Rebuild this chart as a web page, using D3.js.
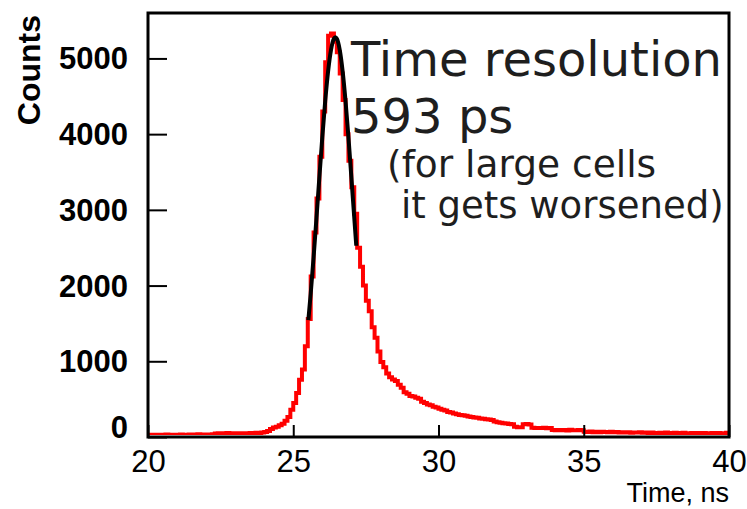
<!DOCTYPE html>
<html>
<head>
<meta charset="utf-8">
<script src="https://cdn.jsdelivr.net/npm/d3@7"></script>
<style>
  body { margin: 0; background: #fff; }
  svg { display: block; }
</style>
</head>
<body>
<div id="chart"></div>
<script>
// histogram: 200 bins of 0.1 ns from 20 to 40 ns
const binStart = 20;
const binWidth = 0.1;
const counts = [
  28, 30, 26, 31, 29, 27, 32, 30, 28, 31,
  30, 33, 29, 31, 34, 30, 32, 35, 31, 33,
  34, 32, 36, 45, 50, 44, 48, 52, 46, 50,
  42, 48, 46, 50, 47, 52, 50, 55, 52, 60,
  65, 80, 105, 125, 135, 155, 175, 215, 265, 360,
  450, 580, 755, 890, 1200, 1560, 2120, 2700, 3150, 3700,
  4300, 4950, 5300, 5330, 5220, 5080, 4800, 4450, 4000, 3650,
  3300, 2950, 2500, 2250, 2000, 1800, 1660, 1450, 1310, 1130,
  990, 920, 840, 790, 760, 740, 690, 650, 590, 570,
  540, 535, 520, 505, 465, 450, 430, 420, 400, 390,
  372, 360, 350, 330, 322, 310, 300, 292, 288, 280,
  270, 265, 258, 255, 245, 240, 236, 230, 224, 205,
  195, 188, 182, 178, 172, 168, 135, 130, 128, 168,
  172, 165, 122, 118, 120, 118, 122, 116, 120, 92,
  90, 94, 88, 92, 86, 95, 90, 88, 92, 88,
  70, 66, 72, 64, 68, 62, 70, 66, 64, 68,
  62, 66, 58, 64, 60, 62, 56, 60, 58, 62,
  55, 60, 52, 58, 54, 50, 56, 52, 58, 54,
  50, 55, 48, 52, 56, 50, 46, 54, 50, 52,
  48, 52, 46, 50, 54, 48, 52, 46, 50, 55
];

// gaussian fit curve
const fitTimes  = [25.52, 25.6, 25.7, 25.8, 25.9, 26.0, 26.1, 26.2, 26.3, 26.4, 26.45, 26.5, 26.6, 26.7, 26.8, 26.9, 27.0, 27.1, 27.17];
const fitCounts = [1544, 1890, 2373, 2896, 3434, 3959, 4436, 4831, 5114, 5261, 5280, 5261, 5114, 4831, 4436, 3959, 3434, 2896, 2526];

const xMajor = [20, 25, 30, 35, 40];
const yMajor = [0, 1000, 2000, 3000, 4000, 5000];
const noteLines = ["Time resolution", "593 ps", "(for large cells", "it gets worsened)"];

const W = 747, H = 509;
const frame = {left: 148, right: 729, top: 13, bottom: 437};

const svg = d3.select("#chart").append("svg")
    .attr("width", W)
    .attr("height", H);

svg.append("rect").attr("width", W).attr("height", H).attr("fill", "#fff");

const x = d3.scaleLinear().domain([20, 40]).range([frame.left, frame.right]);
const y = d3.scaleLinear().domain([0, 5600]).range([frame.bottom, frame.top]);

svg.append("clipPath").attr("id", "clip")
  .append("rect")
    .attr("x", frame.left).attr("y", frame.top - 5)
    .attr("width", frame.right - frame.left).attr("height", frame.bottom - frame.top + 3);

// histogram as steps
const steps = counts.map((c, i) => [binStart + i * binWidth, c]);
steps.push([binStart + counts.length * binWidth, counts[counts.length - 1]]);

svg.append("path")
    .datum(steps)
    .attr("clip-path", "url(#clip)")
    .attr("fill", "none")
    .attr("stroke", "#ff0000")
    .attr("stroke-width", 4)
    .attr("d", d3.line().x(d => x(d[0])).y(d => y(d[1])).curve(d3.curveStepAfter));

// fit
svg.append("path")
    .datum(fitTimes.map((t, i) => [t, fitCounts[i]]))
    .attr("fill", "none")
    .attr("stroke", "#000")
    .attr("stroke-width", 4)
    .attr("d", d3.line().x(d => x(d[0])).y(d => y(d[1])).curve(d3.curveMonotoneX));

// frame
svg.append("rect")
    .attr("x", frame.left).attr("y", frame.top)
    .attr("width", frame.right - frame.left).attr("height", frame.bottom - frame.top)
    .attr("fill", "none").attr("stroke", "#000").attr("stroke-width", 3);

// x axis, ticks inside
const xMinor = d3.range(20, 40.001, 1).filter(v => !xMajor.includes(v));
const gx = svg.append("g").attr("transform", `translate(0,${frame.bottom})`);
gx.call(d3.axisBottom(x).tickValues(xMinor).tickSize(-7).tickFormat(""));
gx.call(d3.axisBottom(x).tickValues(xMajor).tickSize(-12).tickPadding(13).tickFormat(d3.format("d")));
gx.select(".domain").remove();
gx.selectAll("line").attr("stroke-width", 2);
gx.selectAll("text")
    .attr("fill", "#000")
    .style("font-family", "'Liberation Sans', Arial, sans-serif")
    .style("font-size", "31px");

// y axis
const yMinor = d3.range(0, 5601, 200).filter(v => !yMajor.includes(v));
const gy = svg.append("g").attr("transform", `translate(${frame.left},0)`);
gy.call(d3.axisLeft(y).tickValues(yMinor).tickSize(-10).tickFormat(""));
gy.call(d3.axisLeft(y).tickValues(yMajor).tickSize(-19).tickPadding(20).tickFormat(d3.format("d")));
gy.select(".domain").remove();
gy.selectAll("line").attr("stroke-width", 2);
gy.selectAll("text")
    .attr("fill", "#000")
    .style("font-family", "'Liberation Sans', Arial, sans-serif")
    .style("font-weight", "bold")
    .style("font-size", "31px")
    .attr("dy", d => d === 0 ? "0em" : "0.34em");

// axis titles
svg.append("text")
    .attr("x", frame.right)
    .attr("y", 502)
    .attr("text-anchor", "end")
    .style("font-family", "'Liberation Sans', Arial, sans-serif")
    .style("font-size", "27px")
    .text("Time, ns");

svg.append("text")
    .attr("transform", `translate(40,${frame.top + 2}) rotate(-90)`)
    .attr("text-anchor", "end")
    .style("font-family", "'Liberation Sans', Arial, sans-serif")
    .style("font-weight", "bold")
    .style("font-size", "32px")
    .text("Counts");

// annotation
const noteX = [351, 351, 387, 401];
const noteY = [76, 133, 177, 218];
const noteSize = [48, 48, 37.5, 37];
svg.selectAll(".note")
  .data(noteLines)
  .enter().append("text")
    .attr("class", "note")
    .attr("x", (d, i) => noteX[i])
    .attr("y", (d, i) => noteY[i])
    .attr("fill", "#1e1e1e")
    .style("font-family", "'DejaVu Sans', sans-serif")
    .style("font-size", (d, i) => noteSize[i] + "px")
    .text(d => d);
</script>
</body>
</html>
